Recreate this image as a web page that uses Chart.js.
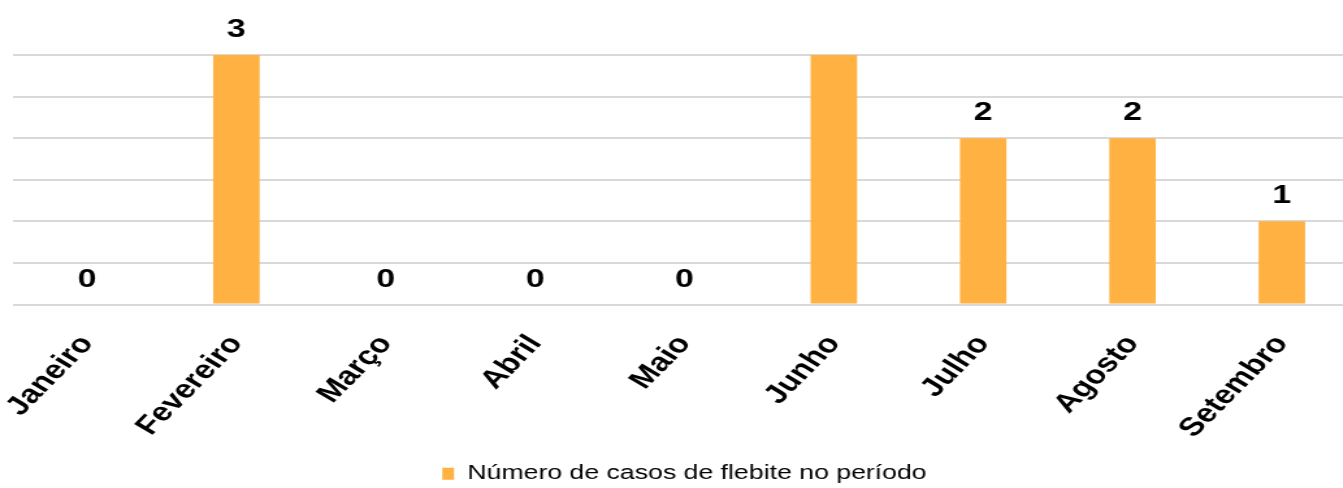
<!DOCTYPE html>
<html><head><meta charset="utf-8">
<script src="https://cdn.jsdelivr.net/npm/chart.js@4"></script>
<style>
html,body{margin:0;padding:0;overflow:hidden;background:#fff;width:1343px;height:488px}
#wrap{position:absolute;left:0;top:0;width:1053px;height:488px;transform:scaleX(1.3);transform-origin:0 0}
canvas{display:block}
</style></head><body>
<div id="wrap"><canvas id="c" width="1053" height="488"></canvas></div>
<script>
const categories = ['Janeiro','Fevereiro','Março','Abril','Maio','Junho','Julho','Agosto','Setembro'];
const seriesName = 'Número de casos de flebite no período';
const values = [0, 3, 0, 0, 0, 3, 2, 2, 1];
const valueLabels = ['0', '3', '0', '0', '0', '', '2', '2', '1'];
const yMin = 0, yMax = 3, yStep = 0.5;

const FONT = '"Liberation Sans", Arial, sans-serif';
const STRETCH = 1.3;
const ROT = Math.atan(STRETCH) * 180 / Math.PI;

const valueLabelPlugin = {
  id: 'valueLabels',
  afterDatasetsDraw(chart) {
    const ctx = chart.ctx;
    const meta = chart.getDatasetMeta(0);
    ctx.save();
    ctx.font = 'bold 26px ' + FONT;
    ctx.fillStyle = '#000';
    ctx.textAlign = 'center';
    ctx.textBaseline = 'alphabetic';
    meta.data.forEach((bar, i) => {
      const t = valueLabels[i];
      if (!t) return;
      ctx.fillText(t, bar.x, bar.y - 18);
    });
    ctx.restore();
  }
};

new Chart(document.getElementById('c'), {
  type: 'bar',
  data: {
    labels: categories,
    datasets: [{
      label: seriesName,
      data: values,
      backgroundColor: '#FFB142',
      borderWidth: 0,
      barPercentage: 0.311,
      categoryPercentage: 1.0
    }]
  },
  options: {
    responsive: false,
    animation: false,
    devicePixelRatio: 1,
    layout: { padding: { left: 9.5, right: 9.5, top: 55, bottom: -6 } },
    plugins: {
      legend: {
        position: 'bottom',
        labels: {
          font: { family: FONT, size: 20.5 },
          color: '#000',
          boxWidth: 9,
          boxHeight: 12,
          padding: 0
        }
      },
      tooltip: { enabled: false }
    },
    scales: {
      x: {
        grid: { display: false, drawTicks: false },
        border: { display: false },
        ticks: {
          autoSkip: false,
          minRotation: ROT,
          maxRotation: ROT,
          padding: 25,
          color: '#000',
          font: { family: FONT, size: 26, weight: 'bold' }
        },
        afterFit(scale) {
          scale.height = 159;
          scale.paddingLeft = 0;
          scale.paddingRight = 0;
        }
      },
      y: {
        min: yMin,
        max: yMax,
        ticks: { display: false, stepSize: yStep },
        grid: { color: '#d9d9d9', lineWidth: 2, drawTicks: false },
        border: { display: false },
        afterFit(scale) { scale.width = 0; }
      }
    }
  },
  plugins: [valueLabelPlugin]
});
</script>
</body></html>
